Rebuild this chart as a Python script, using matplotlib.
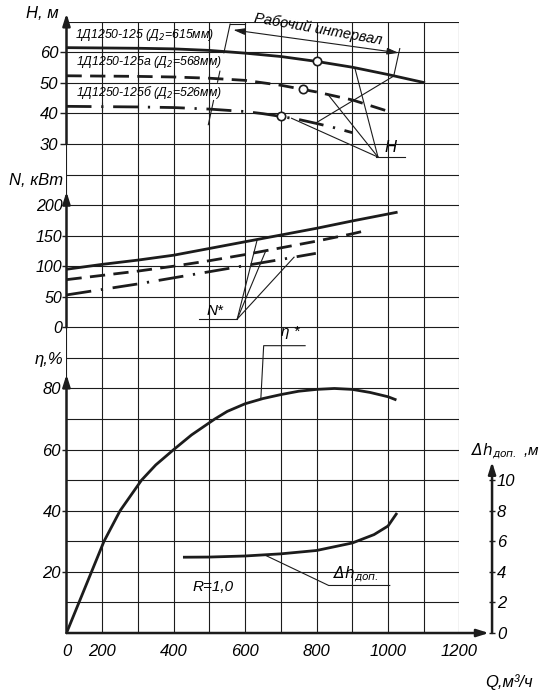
import matplotlib.pyplot as plt
from matplotlib.patches import Rectangle
import numpy as np

plt.rcParams['font.family'] = ['Liberation Sans', 'DejaVu Sans']
plt.rcParams['font.style'] = 'italic'
plt.rcParams['mathtext.fontset'] = 'dejavusans'
plt.rcParams['mathtext.default'] = 'it'

INK = '#1c1c1c'

# напор H, м (три диаметра колеса)
q_h1 = [0, 200, 300, 400, 500, 600, 700, 800, 900, 1000, 1100]
h1 = [61.5, 61.4, 61.3, 61.1, 60.6, 59.7, 58.6, 57.0, 55.1, 52.7, 50.1]
q_h2 = [0, 200, 300, 400, 500, 600, 700, 800, 900, 1000]
h2 = [52.3, 52.2, 52.1, 51.9, 51.5, 50.8, 49.2, 47.0, 44.4, 40.7]
q_h3 = [0, 200, 300, 400, 500, 600, 650, 700, 750, 800, 850, 900]
h3 = [42.3, 42.2, 42.1, 41.9, 41.4, 40.6, 39.9, 39.0, 38.0, 36.7, 35.3, 33.7]
q_work = [800, 763, 700]

# мощность N, кВт
q_n1 = [0, 200, 300, 400, 500, 600, 700, 800, 900, 1023]
n1 = [95, 103, 110, 118, 129, 140, 151, 162, 174, 188]
q_n2 = [0, 200, 300, 400, 500, 600, 700, 800, 900, 929]
n2 = [78, 85, 92, 100, 109, 119, 130, 141, 153, 157]
q_n3 = [0, 200, 300, 400, 500, 600, 700, 798]
n3 = [53, 62, 71, 81, 91, 101, 111, 121]

# КПД, %
q_eta = [0, 70, 140, 205, 250, 310, 350, 400, 450, 515, 550, 600, 650,
         700, 750, 800, 850, 900, 950, 1000, 1020]
eta = [0, 10, 20, 30, 40, 50, 55, 60, 64.8, 70, 72.5, 75, 76.7,
       78, 79.1, 79.7, 80, 79.7, 78.7, 77.3, 76.4]

# допустимый кавитационный запас, м
q_dh = [430, 500, 600, 700, 800, 900, 961, 1000, 1023]
dh = [4.96, 4.97, 5.04, 5.18, 5.4, 5.89, 6.44, 7.0, 7.78]

q_ticks = [0, 200, 400, 600, 800, 1000, 1200]
q_grid = [300, 500, 700, 900, 1100]


# первая клетка сетки - 200 м3/ч, остальные по 100
def fwd(q):
    q = np.asarray(q, dtype=float)
    return np.where(q <= 200, q / 200.0, q / 100.0 - 1.0)


def inv(k):
    k = np.asarray(k, dtype=float)
    return np.where(k <= 1, k * 200.0, (k + 1.0) * 100.0)


fig = plt.figure(figsize=(5.45, 6.99), dpi=100)
gs = fig.add_gridspec(3, 1, height_ratios=[4, 6, 10], hspace=0,
                      left=0.122, right=0.843, top=0.969, bottom=0.0944)
axH = fig.add_subplot(gs[0])
axN = fig.add_subplot(gs[1], sharex=axH)
axE = fig.add_subplot(gs[2], sharex=axH)

axH.set_xscale('function', functions=(fwd, inv))
axH.set_xlim(0, 1200)
axE.set_xticks(q_ticks)
axE.set_xticks(q_grid, minor=True)

axH.set_ylim(30, 70)
axH.set_yticks([30, 40, 50, 60])
axH.set_yticks([70], minor=True)
axN.set_ylim(0, 300)
axN.set_yticks([0, 50, 100, 150, 200])
axN.set_yticks([250, 300], minor=True)
axE.set_ylim(0, 100)
axE.set_yticks([20, 40, 60, 80])
axE.set_yticks([0, 10, 30, 50, 70, 90, 100], minor=True)

for ax in (axH, axN, axE):
    ax.set_facecolor('none')
    for s in ax.spines.values():
        s.set_visible(False)
    ax.grid(True, which='both', color=INK, lw=0.8)
    ax.tick_params(axis='x', which='both', length=0)
    ax.tick_params(axis='y', which='minor', length=0)
    ax.tick_params(axis='y', which='major', direction='out', length=3,
                   width=1, color=INK, labelsize=12, pad=1)
axH.tick_params(axis='x', labelbottom=False)
axH.tick_params(axis='y', length=4, pad=2)
axN.tick_params(axis='x', labelbottom=False)
axN.tick_params(axis='y', labelsize=11.5, pad=0)
axE.tick_params(axis='x', labelsize=12, pad=8)

# оси со стрелками
arrow = dict(arrowstyle='-|>,head_length=0.7,head_width=0.22', lw=1.8,
             color=INK, shrinkA=0, shrinkB=0)
axH.annotate('', xy=(0, 72.7), xytext=(0, 30), arrowprops=arrow,
             annotation_clip=False)
axN.annotate('', xy=(0, 222), xytext=(0, 0), arrowprops=arrow,
             annotation_clip=False)
axE.annotate('', xy=(0, 84.6), xytext=(0, 0), arrowprops=arrow,
             annotation_clip=False)
axE.annotate('', xy=(1.075, 0), xytext=(0, 0), xycoords='axes fraction',
             arrowprops=arrow, annotation_clip=False)

axD = axE.twinx()
axD.set_facecolor('none')
for s in axD.spines.values():
    s.set_visible(False)
axD.set_ylim(0, 20)
axD.spines['right'].set_position(('axes', 1.083))
axD.set_yticks([0, 2, 4, 6, 8, 10])
axD.tick_params(axis='y', direction='inout', length=5, width=1, color=INK,
                labelsize=12, pad=1)
axD.annotate('', xy=(1.083, 11.2), xytext=(1.083, 0),
             xycoords=('axes fraction', 'data'), arrowprops=arrow,
             annotation_clip=False)

# подписи осей
axH.annotate('H, м', xy=(-0.02, 72.8), xycoords=('axes fraction', 'data'),
             ha='right', va='center', fontsize=12, annotation_clip=False)
axN.annotate('N, кВт', xy=(-0.008, 240), xycoords=('axes fraction', 'data'),
             ha='right', va='center', fontsize=12, annotation_clip=False)
axE.annotate('η,%', xy=(-0.008, 89.5), xycoords=('axes fraction', 'data'),
             ha='right', va='center', fontsize=12, annotation_clip=False)
axD.annotate(r'$\Delta h_{доп.}$ ,м', xy=(1.03, 11.9),
             xycoords=('axes fraction', 'data'), ha='left', va='center',
             fontsize=11, annotation_clip=False)
axE.annotate('Q,м³/ч', xy=(1.125, -0.16), xycoords='axes fraction',
             ha='center', va='center', fontsize=12, annotation_clip=False)

# поле подписей без сетки
axH.add_patch(Rectangle((2, 43.8), 538, 25.9, fc='white', ec='none',
                        zorder=1))
for qq, hh in ((q_h1, h1), (q_h2, h2), (q_h3, h3)):
    yy = np.interp([200, 300, 400, 500], qq, hh)
    axH.vlines([200, 300, 400, 500], yy - 1.4, yy + 1.4, color=INK, lw=0.8,
               zorder=2)

# кривые
dash = (0, (5.5, 3))
dashdot = (0, (9, 3.5, 0.8, 3.5))
axH.plot(q_h1, h1, color=INK, lw=2, zorder=3)
axH.plot(q_h2, h2, color=INK, lw=2, ls=dash, zorder=3)
axH.plot(q_h3, h3, color=INK, lw=2, ls=dashdot, zorder=3)
h_work = [np.interp(q_work[0], q_h1, h1), np.interp(q_work[1], q_h2, h2),
          np.interp(q_work[2], q_h3, h3)]
axH.plot(q_work, h_work, 'o', ms=6, mfc='white', mec=INK, mew=1.2, zorder=5)

axN.plot(q_n1, n1, color=INK, lw=2, zorder=3)
axN.plot(q_n2, n2, color=INK, lw=2, ls=dash, zorder=3)
axN.plot(q_n3, n3, color=INK, lw=2, ls=dashdot, zorder=3)

axE.plot(q_eta, eta, color=INK, lw=2, zorder=3)
axD.plot(q_dh, dh, color=INK, lw=2, zorder=3)

# подписи кривых напора
fs = 8.8
axH.text(46, 65.8, '1Д1250-125 (Д$_2$=615мм)', fontsize=fs, va='center', zorder=4)
axH.text(56, 56.9, '1Д1250-125а (Д$_2$=568мм)', fontsize=fs, va='center', zorder=4)
axH.text(56, 46.7, '1Д1250-125б (Д$_2$=526мм)', fontsize=fs, va='center', zorder=4)

# рабочий интервал
thin = dict(color=INK, lw=0.8, zorder=4)
axH.plot([600, 558], [69.3, 69.3], **thin)
for top, bot in ((69.2, 59.8), (53.8, 50.2), (44.2, 36.3)):
    axH.plot([497 + (top - 36.3) / 32.9 * 61, 497 + (bot - 36.3) / 32.9 * 61],
             [top, bot], **thin)
axH.plot([1033, 1016, 800], [61.2, 52.2, 37.0], **thin)
axH.annotate('', xy=(1030, 59.8), xytext=(567, 67.3),
             arrowprops=dict(arrowstyle='<|-|>,head_length=0.7,head_width=0.2',
                             lw=0.8, color=INK, shrinkA=0, shrinkB=0))
axH.text(805, 67.4, 'Рабочий интервал', fontsize=10.5, rotation=-10,
         ha='center', va='center', rotation_mode='anchor', zorder=4)

# выноски H
for qq, hh, qa in ((q_h1, h1, 907), (q_h2, h2, 832), (q_h3, h3, 730)):
    axH.plot([972, qa], [25.7, np.interp(qa, qq, hh)], clip_on=False, **thin)
axH.plot([967, 1047], [25.7, 25.7], clip_on=False, **thin)
axH.text(1008, 26.3, 'H', fontsize=12, ha='center', va='bottom', zorder=4,
         clip_on=False)

# выноски N*
for qq, nn, qa in ((q_n1, n1, 634), (q_n2, n2, 658), (q_n3, n3, 737)):
    axN.plot([578, qa], [13.6, np.interp(qa, qq, nn)], **thin)
axN.plot([470, 578], [13.6, 13.6], **thin)
axN.text(517, 15, 'N*', fontsize=11, ha='center', va='bottom', zorder=4)

# выноска η*
axE.plot([644, 652, 768], [np.interp(644, q_eta, eta), 94, 94], **thin)
axE.text(726, 98.6, 'η *', fontsize=11, ha='center', va='center', zorder=4)

# выноска Δh
axD.plot([654, 834, 1005], [np.interp(654, q_dh, dh), 3.11, 3.11], **thin)
axD.text(910, 3.2, r'$\Delta h_{доп.}$', fontsize=11, ha='center',
         va='bottom', zorder=4)

axE.text(510, 15, 'R=1,0', fontsize=11, ha='center', va='center', zorder=4)

plt.savefig('out.png', dpi=100)
